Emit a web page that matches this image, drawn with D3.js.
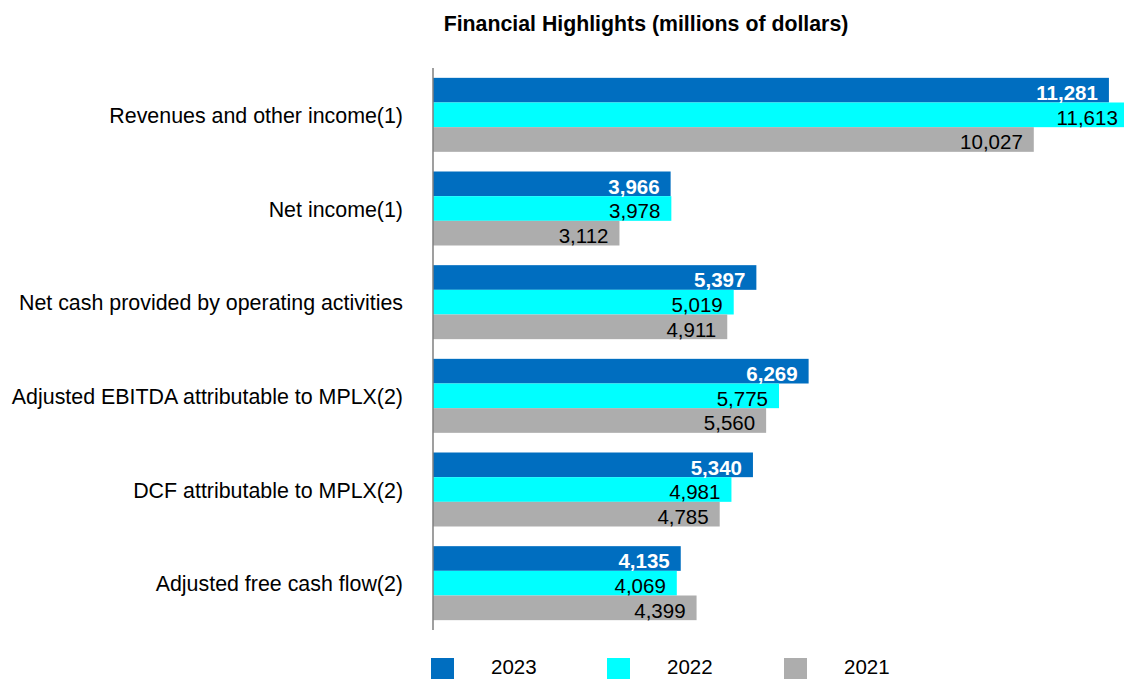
<!DOCTYPE html>
<html>
<head>
<meta charset="utf-8">
<script src="https://cdn.jsdelivr.net/npm/d3@7"></script>
<style>
  body { margin: 0; background: #fff; }
  text { font-family: "Liberation Sans", Arial, sans-serif; }
</style>
</head>
<body>
<div id="chart"></div>
<script>
// data
const categories = [
  "Revenues and other income(1)",
  "Net income(1)",
  "Net cash provided by operating activities",
  "Adjusted EBITDA attributable to MPLX(2)",
  "DCF attributable to MPLX(2)",
  "Adjusted free cash flow(2)"
];
const years = ["2023", "2022", "2021"];
const values2023 = [11281, 3966, 5397, 6269, 5340, 4135];
const values2022 = [11613, 3978, 5019, 5775, 4981, 4069];
const values2021 = [10027, 3112, 4911, 5560, 4785, 4399];
const colors = ["#006EC0", "#00FFFF", "#ADADAD"];

const svgWidth = 1124;
const svgHeight = 679;

const svg = d3.select("#chart")
  .append("svg")
  .attr("width", svgWidth)
  .attr("height", svgHeight);

const series = [values2023, values2022, values2021];
const rows = categories.map((c, i) => ({
  name: c,
  vals: years.map((y, j) => ({ year: y, idx: j, value: series[j][i] }))
}));

// scales
const x = d3.scaleLinear()
  .domain([0, 12000])
  .range([433, 1152]);

const y0 = d3.scaleBand()
  .domain(categories)
  .range([68, 630])
  .paddingInner(0.21)
  .paddingOuter(0.105);

const y1 = d3.scaleBand()
  .domain(years)
  .range([0, y0.bandwidth()]);

const fmt = d3.format(",");

// title
svg.append("text")
  .attr("x", 646)
  .attr("y", 31)
  .attr("text-anchor", "middle")
  .style("font-size", "21.3px")
  .style("font-weight", "bold")
  .text("Financial Highlights (millions of dollars)");

// bars
const groups = svg.selectAll("g.cat")
  .data(rows)
  .enter()
  .append("g")
  .attr("class", "cat")
  .attr("transform", d => `translate(0, ${y0(d.name)})`);

groups.selectAll("rect")
  .data(d => d.vals)
  .enter()
  .append("rect")
  .attr("x", x(0))
  .attr("y", d => y1(d.year))
  .attr("width", d => x(d.value) - x(0))
  .attr("height", y1.bandwidth())
  .attr("fill", d => colors[d.idx]);

groups.selectAll("text.val")
  .data(d => d.vals)
  .enter()
  .append("text")
  .attr("class", "val")
  .attr("x", d => x(d.value) - 11)
  .attr("y", d => y1(d.year) + y1.bandwidth() / 2 + 2.5)
  .attr("dominant-baseline", "central")
  .attr("text-anchor", "end")
  .style("font-size", "20.5px")
  .style("font-weight", d => d.idx === 0 ? "bold" : "normal")
  .attr("fill", d => d.idx === 0 ? "#fff" : "#000")
  .text(d => fmt(d.value));

// category labels
svg.selectAll("text.cat-label")
  .data(categories)
  .enter()
  .append("text")
  .attr("class", "cat-label")
  .attr("x", 403)
  .attr("y", d => y0(d) + y0.bandwidth() / 2 + 1)
  .attr("dominant-baseline", "central")
  .attr("text-anchor", "end")
  .style("font-size", "21.4px")
  .attr("fill", "#000")
  .text(d => d);

// axis line
svg.append("line")
  .attr("x1", x(0)).attr("x2", x(0))
  .attr("y1", 68).attr("y2", 630)
  .attr("stroke", "#7f7f7f")
  .attr("stroke-width", 1.5);

// legend
const legendX = [431, 607, 784];
const legend = svg.selectAll("g.legend")
  .data(years)
  .enter()
  .append("g")
  .attr("class", "legend")
  .attr("transform", (d, i) => `translate(${legendX[i]}, 658)`);

legend.append("rect")
  .attr("width", 23)
  .attr("height", 23)
  .attr("fill", (d, i) => colors[i]);

legend.append("text")
  .attr("x", 60)
  .attr("y", 16)
  .style("font-size", "20.5px")
  .attr("fill", "#000")
  .text(d => d);
</script>
</body>
</html>
